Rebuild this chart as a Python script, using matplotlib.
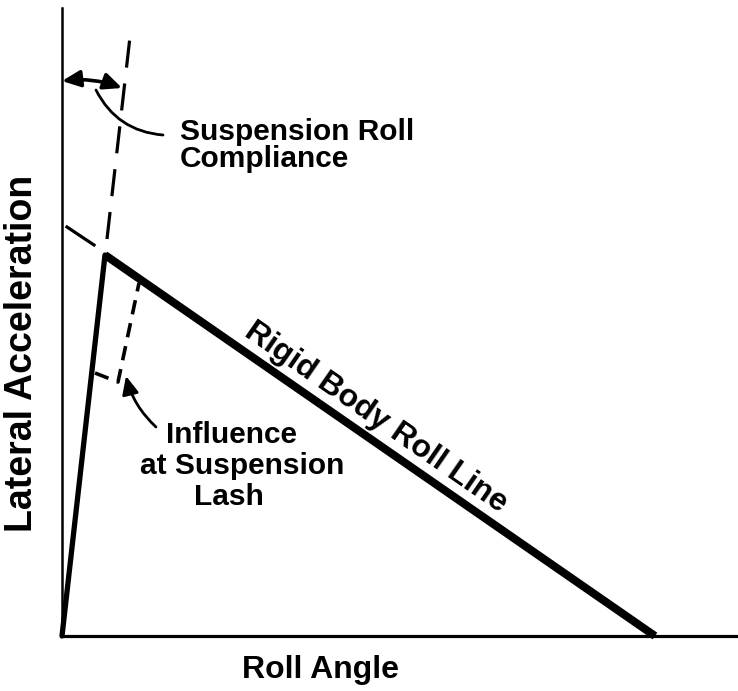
import numpy as np
import matplotlib
matplotlib.use("Agg")
import matplotlib.pyplot as plt
from matplotlib.patches import FancyArrowPatch

# schematic values, roll angle (x) vs lateral acceleration (y), arbitrary units
compliance_x = [0.0, 0.43]
compliance_y = [0.0, 3.81]
rigid_x = [0.43, 5.93]
rigid_y = [3.81, 0.0]
compliance_ext_x = [0.45, 0.69]
compliance_ext_y = [3.97, 6.08]
rigid_ext_x = [0.05, 0.32]
rigid_ext_y = [4.09, 3.91]
lash_x = [0.33, 0.56, 0.77]
lash_y = [2.63, 2.54, 3.53]

W, H = 738, 691
plt.rcParams['font.family'] = ['Liberation Sans', 'DejaVu Sans']
fig = plt.figure(figsize=(W / 100, H / 100), dpi=100)

def fx(px):
    return px / W

def fy(py):
    return 1 - py / H

ax = fig.add_axes([fx(62), fy(636), fx(738) - fx(62), fy(8) - fy(636)])
ax.set_xlim(0, 6.76)
ax.set_ylim(0, 6.28)
ax.set_xticks([])
ax.set_yticks([])
for s in ['top', 'right']:
    ax.spines[s].set_visible(False)
ax.spines['left'].set_linewidth(1.8)
ax.spines['bottom'].set_linewidth(2.3)

# main lines
ax.plot(compliance_x, compliance_y, color='black', lw=3.8, solid_capstyle='round', clip_on=False)
ax.plot(rigid_x, rigid_y, color='black', lw=5.8, solid_capstyle='butt', clip_on=False)
ax.plot([compliance_x[1], rigid_x[0]], [compliance_y[1], rigid_y[0]], color='black', lw=5.8)

# dashed constructions
ax.plot(compliance_ext_x, compliance_ext_y, color='black', lw=2.3, linestyle=(0, (8.5, 5)), clip_on=False)
ax.plot(rigid_ext_x, rigid_ext_y, color='black', lw=2.3, clip_on=False)
ax.plot(lash_x, lash_y, color='black', lw=2.6, linestyle=(0, (4, 2.5)), clip_on=False)

# compliance angle arrow
ax.add_patch(FancyArrowPatch((0.0, 5.55), (0.60, 5.48), arrowstyle='<|-|>,head_length=11,head_width=5',
                             connectionstyle='arc3,rad=-0.12', color='black', lw=2.6,
                             shrinkA=0, shrinkB=0, clip_on=False))
# leader to compliance text
ax.add_patch(FancyArrowPatch((0.34, 5.46), (1.01, 5.01), arrowstyle='-',
                             connectionstyle='arc3,rad=0.28', color='black', lw=2.0,
                             shrinkA=0, shrinkB=0))
# lash arrow
ax.add_patch(FancyArrowPatch((0.94, 2.09), (0.64, 2.60), arrowstyle='-|>,head_length=11,head_width=5',
                             connectionstyle='arc3,rad=-0.15', color='black', lw=2.0,
                             shrinkA=0, shrinkB=0))

# rotated label along rigid body line
ang = np.degrees(np.arctan2(rigid_y[0] - rigid_y[1], rigid_x[1] - rigid_x[0]))
mx = 3.02
my = np.interp(mx, rigid_x, rigid_y)
nrm = np.radians(90 - ang)
ax.annotate('Rigid Body Roll Line', (mx, my), xytext=(12 * np.cos(nrm), 12 * np.sin(nrm)),
            textcoords='offset pixels', rotation=-ang, rotation_mode='anchor',
            ha='center', va='baseline', fontsize=23, fontweight='bold')

tk = dict(fontsize=21.5, fontweight='bold', va='baseline')
fig.text(fx(180), fy(140), 'Suspension Roll', ha='left', **tk)
fig.text(fx(180), fy(167), 'Compliance', ha='left', **tk)
fig.text(fx(232), fy(443), 'Influence', ha='center', **tk)
fig.text(fx(242), fy(474), 'at Suspension', ha='center', **tk)
fig.text(fx(229), fy(505), 'Lash', ha='center', **tk)

fig.text(fx(320), fy(678), 'Roll Angle', ha='center', va='baseline', fontsize=23, fontweight='bold')
fig.text(fx(22), fy(353), 'Lateral Acceleration', ha='center', va='center', rotation=90,
         fontsize=27, fontweight='bold')

fig.savefig('out.png', dpi=100)
